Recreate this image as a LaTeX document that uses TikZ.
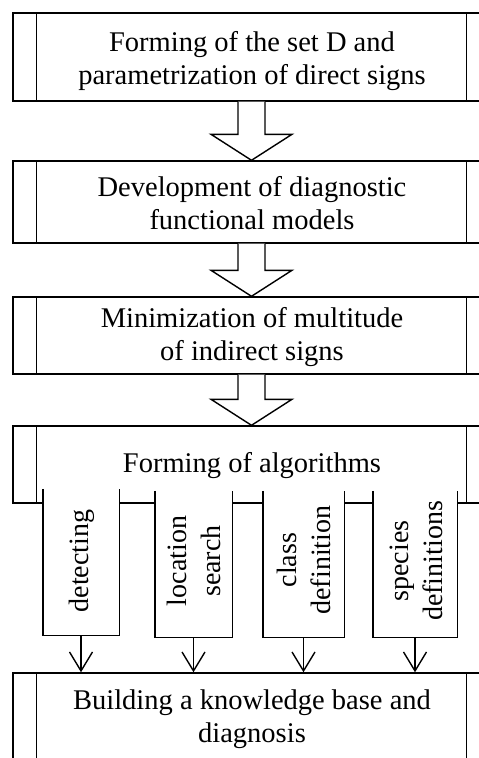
\documentclass[tikz,border=0pt]{standalone}
\usepackage{fontspec}
\setmainfont{Liberation Serif}
\usetikzlibrary{arrows.meta,calc}
\begin{document}
\begin{tikzpicture}[x=1pt,y=-1pt,
  lw/.style={line width=1.4pt},
  procbox/.style={lw,draw,rectangle,minimum width=477pt,inner sep=0pt},
  txt/.style={font=\fontsize{28.5}{33}\selectfont,align=center,inner sep=0pt},
  rtxt/.style={font=\fontsize{28}{34}\selectfont,align=center,inner sep=0pt,rotate=90},
  subbox/.style={fill=white,draw=none,rectangle,minimum width=#1,minimum height=146pt,inner sep=0pt},
  blockarrow/.style={lw,draw,fill=white,line join=miter},
  arr/.style={lw,-{Straight Barb[length=19pt,width=23pt,line width=1.4pt]}}]
\useasboundingbox (0,0) rectangle (479,758);
\clip (0,0) rectangle (479,758);
\fill[white] (0,0) rectangle (479,758);
% boxes
\node[procbox,minimum height=88pt] (b1) at (251.5,57) {};
\node[procbox,minimum height=82pt] (b2) at (251.5,202) {};
\node[procbox,minimum height=77pt] (b3) at (251.5,335.5) {};
\node[procbox,minimum height=77pt] (b4) at (251.5,464.5) {};
\node[procbox,minimum height=100pt] (b5) at (251.5,723) {};
% inner vertical lines
\foreach \b in {b1,b2,b3,b4,b5}{
  \draw[lw] ([xshift=24pt]\b.north west) -- ([xshift=24pt]\b.south west);
  \draw[lw] ([xshift=-24pt]\b.north east) -- ([xshift=-24pt]\b.south east);
}
% sub boxes
\node[subbox=76pt] (s1) at (81,562) {};
\node[subbox=77pt] (s2) at (193.5,564) {};
\node[subbox=81pt] (s3) at (303.5,564) {};
\node[subbox=84pt] (s4) at (415,564) {};
\foreach \s in {s1,s2,s3,s4}{
  \draw[lw] (\s.north west) -- (\s.south west) -- (\s.south east) -- (\s.north east);
}
% texts
\node[txt] (t1) at (252,61) {Forming of the set D and\\parametrization of direct signs};
\node[txt] (t2) at (252,203) {Development of diagnostic\\functional models};
\node[txt] (t3) at (252,337) {Minimization of multitude\\of indirect signs};
\node[txt] (t4) at (252,466) {Forming of algorithms};
\node[txt] (t5) at (252,719) {Building a knowledge base and\\diagnosis};
\node[rtxt] (r1) at (82,561) {detecting};
\node[rtxt] (r2) at (194,561) {location\\search};
\node[rtxt] (r3) at (304,560) {class\\definition};
\node[rtxt] (r4) at (416,561) {species\\definitions};
% block arrows
\foreach \a/\b in {b1/b2,b2/b3,b3/b4}{
  \draw[blockarrow] ($(\a.south)+(-13.5,0)$) -- ($(\b.north)+(-13.5,-26)$) -- ($(\b.north)+(-40.5,-26)$)
    -- (\b.north) -- ($(\b.north)+(40.5,-26)$) -- ($(\b.north)+(13.5,-26)$) -- ($(\a.south)+(13.5,0)$);
}
% small arrows
\foreach \s in {s1,s2,s3,s4}{
  \draw[arr] (\s.south) -- (\s.south |- b5.north);
}
\end{tikzpicture}
\end{document}
